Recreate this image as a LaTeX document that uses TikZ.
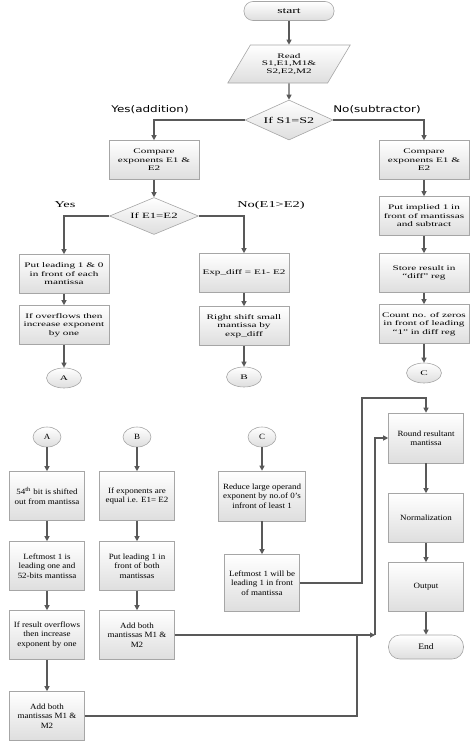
\documentclass[tikz,border=0pt]{standalone}
\usepackage{fontspec}
\setmainfont{Liberation Serif}
\newfontfamily\topfont{Liberation Serif}[FakeStretch=1.6]
\newfontfamily\botfont{Liberation Serif}[FakeStretch=1.12]
\newfontfamily\lblfont{DejaVu Sans}[FakeStretch=1.3]
\usetikzlibrary{shapes.geometric,arrows.meta}

\tikzset{
  shadebox/.style={draw=black!35, line width=0.6pt, top color=white, bottom color=black!13, align=center, inner sep=1pt},
  tbox/.style={shadebox, rectangle, minimum width=90pt, minimum height=39pt, font=\topfont\fontsize{7}{8.4}\selectfont},
  bbox/.style={shadebox, rectangle, minimum width=75pt, minimum height=49pt, font=\botfont\fontsize{8}{9.4}\selectfont},
  term/.style={shadebox, rectangle, minimum width=75pt, minimum height=24pt, rounded corners=11.5pt},
  decide/.style={shadebox, diamond, inner sep=0pt, aspect=2.2},
  tconn/.style={shadebox, ellipse, inner sep=0pt, minimum width=35pt, minimum height=20pt, font=\topfont\fontsize{7}{8}\selectfont},
  bconn/.style={shadebox, ellipse, inner sep=0pt, minimum width=28pt, minimum height=20pt, font=\botfont\fontsize{8}{9}\selectfont},
  wire/.style={draw=black!65, line width=1.1pt},
  arr/.style={wire, -{Triangle[length=5pt,width=5pt]}},
  lbl/.style={inner sep=0pt}
}

\begin{document}
\begin{tikzpicture}[x=1pt,y=-1pt]
  \useasboundingbox (0,0) rectangle (474,744);

  \node[term, minimum width=90pt, minimum height=19pt, rounded corners=9pt, font=\topfont\fontsize{8.5}{10}\selectfont] (start) at (289,11) {start};
  \node[shadebox, trapezium, trapezium left angle=52.6, trapezium right angle=127.4, trapezium stretches=true, minimum width=123pt, minimum height=38pt, inner sep=0pt, font=\topfont\fontsize{7}{7.4}\selectfont] (read) at (289,64) {Read\\S1,E1,M1\&\\S2,E2,M2};
  \node[decide, minimum width=88pt, minimum height=40pt, font=\topfont\fontsize{8.8}{10}\selectfont] (s12) at (289,120) {If S1=S2};
  \node[lbl, font=\lblfont\fontsize{9.2}{11}\selectfont] (yesadd) at (150,110) {Yes(addition)};
  \node[lbl, font=\lblfont\fontsize{9.2}{11}\selectfont] (nosub) at (377,110) {No(subtractor)};

  \node[tbox] (cmpl) at (154,160) {Compare\\exponents E1 \&\\E2};
  \node[decide, minimum width=89pt, minimum height=37pt, font=\topfont\fontsize{8}{9}\selectfont] (e12) at (154,216) {If E1=E2};
  \node[lbl, font=\topfont\fontsize{9}{10}\selectfont] (yes) at (65,205) {Yes};
  \node[lbl, font=\topfont\fontsize{9}{10}\selectfont] (noe) at (271,205) {No(E1>E2)};

  \node[tbox] (lead) at (64,274) {Put leading 1 \& 0\\in front of each\\mantissa};
  \node[tbox] (ovf) at (64,325) {If overflows then\\increase exponent\\by one};
  \node[tconn] (a) at (64,378) {A};
  \node[tbox] (expd) at (244,273) {Exp\_diff = E1- E2};
  \node[tbox] (shift) at (244,326) {Right shift small\\mantissa by\\exp\_diff};
  \node[tconn] (b) at (244,377) {B};

  \node[tbox] (cmpr) at (424,160) {Compare\\exponents E1 \&\\E2};
  \node[tbox] (impl) at (424,216) {Put implied 1 in\\front of mantissas\\and subtract};
  \node[tbox] (store) at (424,273) {Store result in\\“diff” reg};
  \node[tbox] (count) at (424,324) {Count no. of zeros\\in front of leading\\“1” in diff reg};
  \node[tconn] (c) at (424,373) {C};

  \node[bconn] (a2) at (47,437) {A};
  \node[bbox] (bit) at (47,496) {54\textsuperscript{th} bit is shifted\\out from mantissa};
  \node[bbox] (lone) at (47,566) {Leftmost 1 is\\leading one and\\52-bits mantissa};
  \node[bbox] (rovf) at (47,635) {If result overflows\\then increase\\exponent by one};
  \node[bbox] (addtwo) at (47,716) {Add both\\mantissas M1 \&\\M2};

  \node[bconn] (b2) at (137,437) {B};
  \node[bbox] (equal) at (137,496) {If exponents are\\equal i.e. E1= E2};
  \node[bbox] (both) at (137,566) {Put leading 1 in\\front of both\\mantissas};
  \node[bbox] (addone) at (137,635) {Add both\\mantissas M1 \&\\M2};

  \node[bconn] (c2) at (262,437) {C};
  \node[bbox, minimum width=87pt, minimum height=50pt] (reduce) at (262,496) {Reduce large operand\\exponent by no.of 0’s\\infront of least 1};
  \node[bbox, minimum height=57pt] (lwill) at (262,583) {Leftmost 1 will be\\leading 1 in front\\of mantissa};

  \node[bbox, minimum height=50pt] (round) at (426,438) {Round resultant\\mantissa};
  \node[bbox] (norm) at (426,518) {Normalization};
  \node[bbox] (outp) at (426,587) {Output};
  \node[term, font=\botfont\fontsize{8.5}{10}\selectfont] (stop) at (426,647) {End};

  \coordinate (up) at (362,398);
  \coordinate (join) at (375,635);
  \coordinate (low) at (357,635);

  \draw[arr] (start) -- (read);
  \draw[arr] (read) -- (s12);
  \draw[arr] (s12.west) -| (cmpl);
  \draw[arr] (s12.east) -| (cmpr);
  \draw[arr] (cmpl) -- (e12);
  \draw[arr] (e12.west) -| (lead);
  \draw[arr] (e12.east) -| (expd);
  \draw[arr] (lead) -- (ovf);
  \draw[arr] (ovf) -- (a);
  \draw[arr] (expd) -- (shift);
  \draw[arr] (shift) -- (b);
  \draw[arr] (cmpr) -- (impl);
  \draw[arr] (impl) -- (store);
  \draw[arr] (store) -- (count);
  \draw[arr] (count) -- (c);

  \draw[arr] (a2) -- (bit);
  \draw[arr] (bit) -- (lone);
  \draw[arr] (lone) -- (rovf);
  \draw[arr] (rovf) -- (addtwo);
  \draw[arr] (b2) -- (equal);
  \draw[arr] (equal) -- (both);
  \draw[arr] (both) -- (addone);
  \draw[arr] (c2) -- (reduce);
  \draw[arr] (reduce) -- (lwill);
  \draw[arr] (round) -- (norm);
  \draw[arr] (norm) -- (outp);
  \draw[arr] (outp) -- (stop);

  \draw[arr] (lwill.east) -| (up) -| (round);
  \draw[arr] (addone.east) -- (join);
  \draw[arr] (join) |- (round.west);
  \draw[wire] (addtwo.east) -| (low);

\end{tikzpicture}
\end{document}
